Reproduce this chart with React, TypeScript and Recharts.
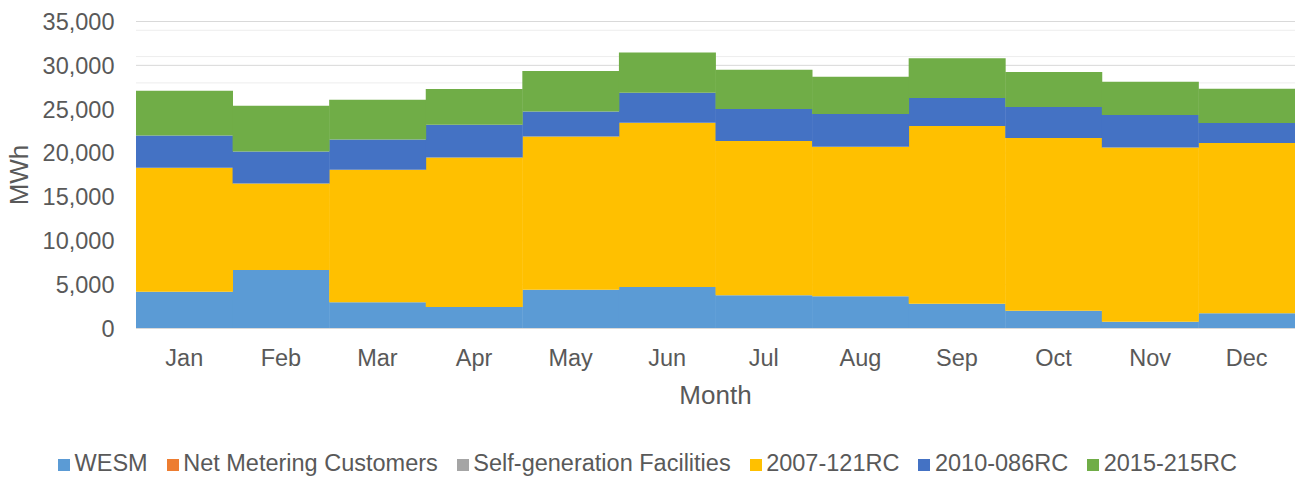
import { BarChart, Bar, XAxis, YAxis, CartesianGrid, Legend } from "recharts";

const months = ["Jan", "Feb", "Mar", "Apr", "May", "Jun", "Jul", "Aug", "Sep", "Oct", "Nov", "Dec"];

// MWh per month
const wesm = [4200, 6680, 2990, 2450, 4430, 4740, 3790, 3680, 2830, 2030, 780, 1740];
const netMetering = [0, 0, 0, 0, 0, 0, 0, 0, 0, 0, 0, 0];
const selfGeneration = [0, 0, 0, 0, 0, 0, 0, 0, 0, 0, 0, 0];
const rc2007 = [14120, 9850, 15100, 17050, 17470, 18720, 17580, 17040, 20250, 19680, 19860, 19400];
const rc2010 = [3690, 3650, 3460, 3730, 2850, 3420, 3650, 3730, 3200, 3540, 3700, 2280];
const rc2015 = [5100, 5220, 4530, 4080, 4610, 4600, 4490, 4260, 4520, 4000, 3800, 3920];

const majorTicks = [0, 5000, 10000, 15000, 20000, 25000, 30000, 35000];
const minorTicks = [
  1000, 2000, 3000, 4000, 6000, 7000, 8000, 9000, 11000, 12000, 13000, 14000,
  16000, 17000, 18000, 19000, 21000, 22000, 23000, 24000, 26000, 27000, 28000, 29000,
  31000, 32000, 33000, 34000,
];

const series = [
  { key: "wesm", name: "WESM", color: "#5B9BD5" },
  { key: "netMetering", name: "Net Metering Customers", color: "#ED7D31" },
  { key: "selfGeneration", name: "Self-generation Facilities", color: "#A5A5A5" },
  { key: "rc2007", name: "2007-121RC", color: "#FFC000" },
  { key: "rc2010", name: "2010-086RC", color: "#4472C4" },
  { key: "rc2015", name: "2015-215RC", color: "#70AD47" },
];

const data = months.map((m, i) => ({
  month: m,
  wesm: wesm[i],
  netMetering: netMetering[i],
  selfGeneration: selfGeneration[i],
  rc2007: rc2007[i],
  rc2010: rc2010[i],
  rc2015: rc2015[i],
}));

const FONT = "'Liberation Sans', Arial, sans-serif";
const TEXT = "#595959";

const LegendBox = () => (
  <div
    style={{
      height: 28,
      lineHeight: "28px",
      display: "flex",
      justifyContent: "center",
      fontFamily: FONT,
      fontSize: 23.5,
      color: TEXT,
      whiteSpace: "nowrap",
    }}
  >
    {series.map((s, i) => (
      <span key={s.key} style={{ marginLeft: i === 0 ? 0 : 19 }}>
        <span
          style={{
            display: "inline-block",
            width: 12,
            height: 12,
            background: s.color,
            marginRight: 4.5,
            verticalAlign: "baseline",
          }}
        />
        {s.name}
      </span>
    ))}
  </div>
);

export default function App() {
  return (
    <div>
      <style>{"body{margin:0}"}</style>
      <BarChart
        width={1295}
        height={477}
        data={data}
        margin={{ top: 21.5, right: 0, bottom: 0, left: 0 }}
        barCategoryGap={0}
        barGap={0}
        style={{ fontFamily: FONT }}
      >
        {/* minor gridlines every 1,000, then the major ones */}
        <CartesianGrid vertical={false} stroke="#EDEDED" horizontalValues={minorTicks} />
        <CartesianGrid vertical={false} stroke="#D9D9D9" />
        <XAxis
          dataKey="month"
          height={120.5}
          tickSize={0}
          tickMargin={21}
          axisLine={{ stroke: "#D9D9D9" }}
          tickLine={false}
          tick={{ fill: TEXT, fontSize: 23.5 }}
          label={{ value: "Month", position: "insideBottom", offset: 45, fill: TEXT, fontSize: 26 }}
        />
        <YAxis
          width={136}
          domain={[0, 35000]}
          ticks={majorTicks}
          tickSize={0}
          tickMargin={21.5}
          axisLine={false}
          tickLine={false}
          tick={{ fill: TEXT, fontSize: 23.5 }}
          tickFormatter={(v: number) => v.toLocaleString("en-US")}
          label={{
            value: "MWh",
            angle: -90,
            position: "insideLeft",
            offset: 19,
            fill: TEXT,
            fontSize: 26,
            style: { textAnchor: "middle" },
          }}
        />
        <Legend verticalAlign="bottom" content={<LegendBox />} />
        {series.map((s) => (
          <Bar
            key={s.key}
            dataKey={s.key}
            name={s.name}
            stackId="total"
            fill={s.color}
            isAnimationActive={false}
          />
        ))}
      </BarChart>
    </div>
  );
}
